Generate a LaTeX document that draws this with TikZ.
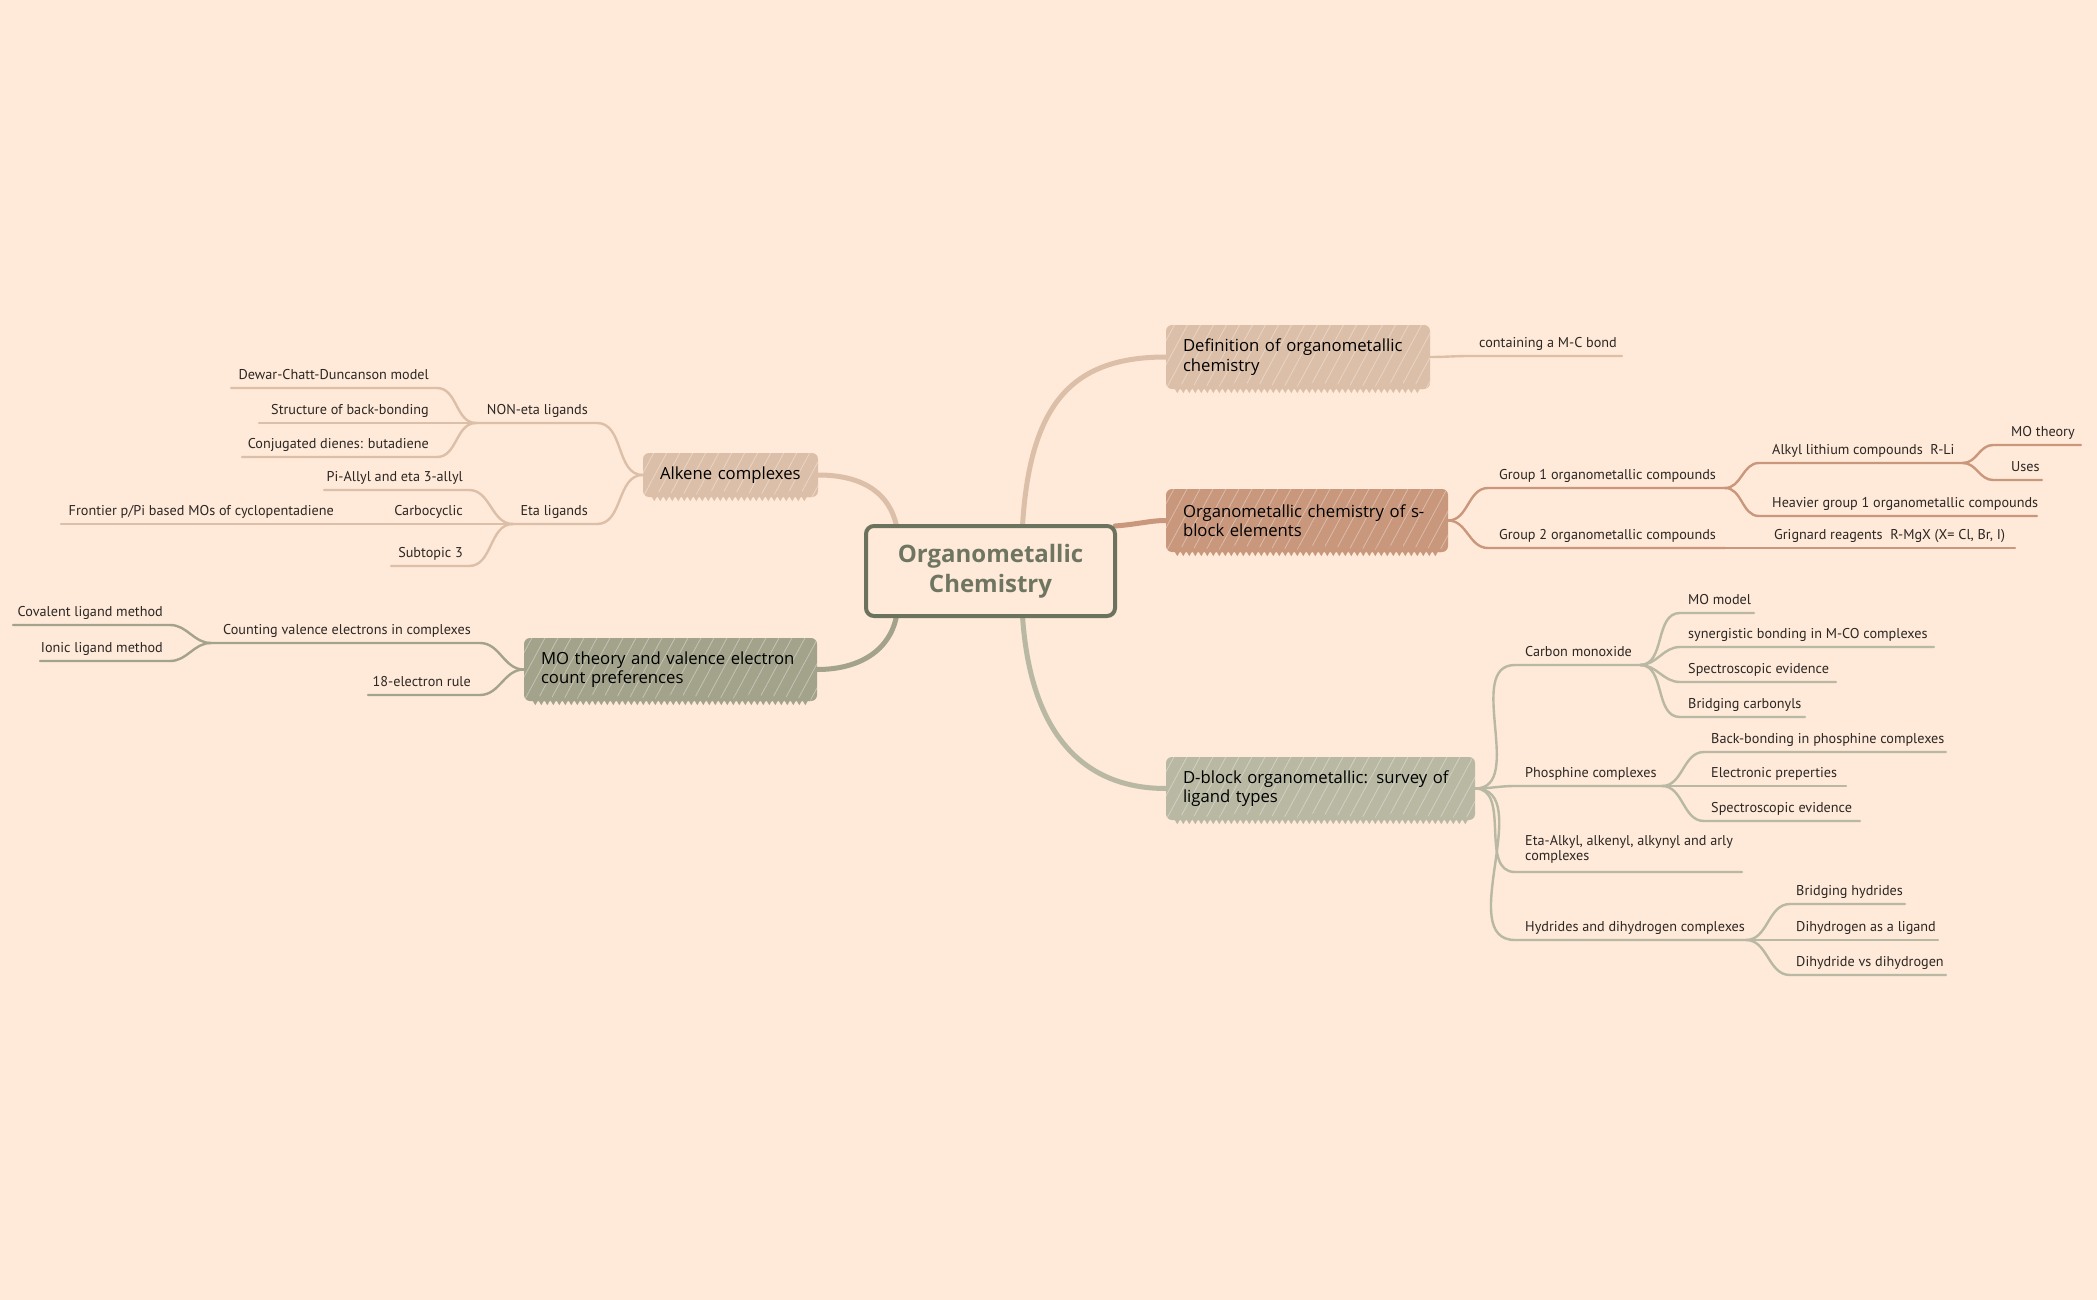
\documentclass[tikz,border=0pt]{standalone}
\usepackage{fontspec}
\newfontfamily\topicfont{Open Sans}
\newfontfamily\subfont{PT Sans}
\usetikzlibrary{decorations.pathmorphing}
\definecolor{bg}{HTML}{FFE9D8}
\definecolor{tanF}{HTML}{DCBFA8}
\definecolor{sF}{HTML}{C9977C}
\definecolor{dF}{HTML}{B8B8A3}
\definecolor{mF}{HTML}{A3A38B}
\definecolor{cenC}{HTML}{6B735F}
\definecolor{cenT}{HTML}{6E7662}
\definecolor{txt}{HTML}{2B2724}
\newcommand\boxteeth[2]{%
  \draw[#2, line width=3pt, decorate, decoration={zigzag, segment length=6pt, amplitude=2.5pt}]
    ([xshift=7pt,yshift=1.5pt]#1.south west) -- ([xshift=-7pt,yshift=1.5pt]#1.south east);}
\begin{document}
\begin{tikzpicture}[x=1pt,y=-1pt,
  lbl/.style={font=\subfont\fontsize{14.2}{15}\selectfont, text=txt, inner sep=0pt},
  rl/.style={lbl, anchor=base west},
  ll/.style={lbl, anchor=base east},
  topic/.style={rounded corners=6pt, inner xsep=17pt, inner ysep=0pt, align=left,
    text width=#1, font=\topicfont\fontsize{16.7}{19.5}\selectfont, text=black,
    path picture={\foreach \k in {-8,...,30}
      \draw[white, opacity=.35, line width=.8pt]
        ([xshift=\k*13pt]path picture bounding box.south west) -- ++(35pt,65pt);}},
  sub/.style={line width=2.4pt, line cap=round},
  trunk/.style={line width=5pt, line cap=round},
  central/.style={draw=cenC, line width=4pt, rounded corners=8pt, fill=bg, minimum width=249pt,
    minimum height=90pt, align=center, text=cenT,
    font=\topicfont\bfseries\fontsize{24}{30}\selectfont},
]
\useasboundingbox (0,0) rectangle (2097,1300);
\fill[bg] (0,0) rectangle (2097,1300);

% ---------- topic boxes ----------
\node[topic=230pt, fill=tanF, minimum width=264pt, minimum height=64pt] (def) at (1298,357)
  {\mbox{Definition of organometallic}\\chemistry};
\node[topic=248pt, fill=sF, minimum width=282pt, minimum height=63pt] (sb) at (1307,520.5)
  {\mbox{Organometallic chemistry of s-}\\block elements};
\node[topic=275pt, fill=dF, minimum width=309pt, minimum height=63pt] (db) at (1320.5,788.5)
  {\mbox{D-block organometallic: survey of}\\ligand types};
\node[topic=141pt, fill=tanF, minimum width=175pt, minimum height=44pt] (al) at (730.5,475)
  {\mbox{Alkene complexes}};
\node[topic=259pt, fill=mF, minimum width=293pt, minimum height=63pt] (mo) at (670.5,669.5)
  {\mbox{MO theory and valence electron}\\count preferences};
\boxteeth{def}{tanF}
\boxteeth{sb}{sF}
\boxteeth{db}{dF}
\boxteeth{al}{tanF}
\boxteeth{mo}{mF}

% ---------- central (placeholder for anchors) ----------
\node[central, draw=none, fill=none, text opacity=0] (cen) at (990.5,571) {Organometallic\\Chemistry};

% ---------- trunks ----------
\draw[trunk, tanF] ([xshift=32pt,yshift=-2pt]cen.north) .. controls (1030,400) and (1075,357) .. (def.west);
\draw[trunk, sF] ([xshift=-2pt,yshift=-2pt]cen.north east) .. controls (1140,524) and (1150,520.5) .. (sb.west);
\draw[trunk, dF] ([xshift=32pt,yshift=2pt]cen.south) .. controls (1030,730) and (1080,788.5) .. (db.west);
\draw[trunk, tanF] ([xshift=-94pt,yshift=-2pt]cen.north) .. controls (890,495) and (865,475) .. (al.east);
\draw[trunk, mF] ([xshift=-94pt,yshift=2pt]cen.south) .. controls (890,650) and (860,669.5) .. (mo.east);
\node[central] (cenbox) at (cen.center) {Organometallic\\Chemistry};

% ---------- Definition branch ----------
\node[rl] (cont) at (1479,347) {containing a M-C bond};
\coordinate (cont-s) at (1470,356); \coordinate (cont-e) at (1622,356);
\draw[sub, tanF] (def.east) to[out=0,in=180] (cont-s) -- (cont-e);

% ---------- s-block branch ----------
\node[rl] (g1) at (1499,479) {Group 1 organometallic compounds};
\coordinate (g1-s) at (1488,488); \coordinate (g1-e) at (1725,488);
\node[rl] (g2) at (1499,539) {Group 2 organometallic compounds};
\coordinate (g2-s) at (1488,548); \coordinate (g2-e) at (1725,548);
\node[rl] (alk) at (1772,454) {Alkyl lithium compounds\ \ R-Li};
\coordinate (alk-s) at (1759,463); \coordinate (alk-e) at (1963,463);
\node[rl] (mot) at (2011,436) {MO theory};
\coordinate (mot-s) at (1993,445); \coordinate (mot-e) at (2081,445);
\node[rl] (uses) at (2011,471) {Uses};
\coordinate (uses-s) at (1993,480); \coordinate (uses-e) at (2042,480);
\node[rl] (hv) at (1772,507) {Heavier group 1 organometallic compounds};
\coordinate (hv-s) at (1759,516); \coordinate (hv-e) at (2037,516);
\node[rl] (gr) at (1774,539) {Grignard reagents\ \ R-MgX (X= Cl, Br, I)};
\coordinate (gr-s) at (1759,548); \coordinate (gr-e) at (2015,548);
\begin{scope}[sub, sF]
\draw (sb.east) to[out=0,in=180] (g1-s) -- (g1-e);
\draw (sb.east) to[out=0,in=180] (g2-s) -- (g2-e);
\draw (g1-e) to[out=0,in=180] (alk-s) -- (alk-e);
\draw (g1-e) to[out=0,in=180] (hv-s) -- (hv-e);
\draw (alk-e) to[out=0,in=180] (mot-s) -- (mot-e);
\draw (alk-e) to[out=0,in=180] (uses-s) -- (uses-e);
\draw (g2-e) -- (gr-s) -- (gr-e);
\end{scope}

% ---------- D-block branch ----------
\node[rl] (co) at (1525,656) {Carbon monoxide};
\coordinate (co-s) at (1515,665); \coordinate (co-e) at (1640,665);
\node[rl] (mom) at (1688,604) {MO model};
\coordinate (mom-s) at (1680,613); \coordinate (mom-e) at (1754,613);
\node[rl] (syn) at (1688,638) {synergistic bonding in M-CO complexes};
\coordinate (syn-s) at (1680,647); \coordinate (syn-e) at (1934,647);
\node[rl] (spa) at (1688,673) {Spectroscopic evidence};
\coordinate (spa-s) at (1680,682); \coordinate (spa-e) at (1836,682);
\node[rl] (brc) at (1688,708) {Bridging carbonyls};
\coordinate (brc-s) at (1680,717); \coordinate (brc-e) at (1805,717);
\node[rl] (ph) at (1525,777) {Phosphine complexes};
\coordinate (ph-s) at (1515,786); \coordinate (ph-e) at (1662,786);
\node[rl] (bb) at (1711,743) {Back-bonding in phosphine complexes};
\coordinate (bb-s) at (1704,752); \coordinate (bb-e) at (1946,752);
\node[rl] (ep) at (1711,777) {Electronic preperties};
\coordinate (ep-s) at (1704,786); \coordinate (ep-e) at (1846,786);
\node[rl] (spb) at (1711,812) {Spectroscopic evidence};
\coordinate (spb-s) at (1704,821); \coordinate (spb-e) at (1860,821);
\node[lbl, anchor=south west, align=left] (eta2) at (1525,864) {Eta-Alkyl, alkenyl, alkynyl and arly\\complexes};
\coordinate (eta2-s) at (1515,872); \coordinate (eta2-e) at (1742,872);
\node[rl] (hy) at (1525,931) {Hydrides and dihydrogen complexes};
\coordinate (hy-s) at (1515,940); \coordinate (hy-e) at (1746,940);
\node[rl] (bh) at (1796,895) {Bridging hydrides};
\coordinate (bh-s) at (1790,904); \coordinate (bh-e) at (1905,904);
\node[rl] (dl) at (1796,931) {Dihydrogen as a ligand};
\coordinate (dl-s) at (1790,940); \coordinate (dl-e) at (1938,940);
\node[rl] (dd) at (1796,966) {Dihydride vs dihydrogen};
\coordinate (dd-s) at (1790,975); \coordinate (dd-e) at (1946,975);
\begin{scope}[sub, dF]
\draw (db.east) to[out=0,in=180] (co-s) -- (co-e);
\draw (db.east) to[out=0,in=180] (ph-s) -- (ph-e);
\draw (db.east) to[out=0,in=180] (eta2-s) -- (eta2-e);
\draw (db.east) to[out=0,in=180] (hy-s) -- (hy-e);
\foreach \c in {mom,syn,spa,brc} \draw (co-e) to[out=0,in=180] (\c-s) -- (\c-e);
\foreach \c in {bb,ep,spb} \draw (ph-e) to[out=0,in=180] (\c-s) -- (\c-e);
\foreach \c in {bh,dl,dd} \draw (hy-e) to[out=0,in=180] (\c-s) -- (\c-e);
\end{scope}

% ---------- Alkene branch ----------
\node[ll] (non) at (588,414) {NON-eta ligands};
\coordinate (non-s) at (597,423); \coordinate (non-e) at (476,423);
\node[ll] (dew) at (429,379) {Dewar-Chatt-Duncanson model};
\coordinate (dew-s) at (437,388); \coordinate (dew-e) at (231,388);
\node[ll] (stb) at (429,414) {Structure of back-bonding};
\coordinate (stb-s) at (437,423); \coordinate (stb-e) at (259,423);
\node[ll] (cjd) at (429,448) {Conjugated dienes: butadiene};
\coordinate (cjd-s) at (437,457); \coordinate (cjd-e) at (242,457);
\node[ll] (etl) at (588,515) {Eta ligands};
\coordinate (etl-s) at (597,524); \coordinate (etl-e) at (513,524);
\node[ll] (pia) at (463,481) {Pi-Allyl and eta 3-allyl};
\coordinate (pia-s) at (469,490); \coordinate (pia-e) at (324,490);
\node[ll] (car) at (463,515) {Carbocyclic};
\coordinate (car-s) at (469,524); \coordinate (car-e) at (384,524);
\node[ll] (fro) at (334,515) {Frontier p/Pi based MOs of cyclopentadiene};
\coordinate (fro-e) at (61,524);
\node[ll] (stp) at (463,557) {Subtopic 3};
\coordinate (stp-s) at (469,566); \coordinate (stp-e) at (391,566);
\begin{scope}[sub, tanF]
\draw (al.west) to[out=180,in=0] (non-s) -- (non-e);
\draw (al.west) to[out=180,in=0] (etl-s) -- (etl-e);
\foreach \c in {dew,stb,cjd} \draw (non-e) to[out=180,in=0] (\c-s) -- (\c-e);
\foreach \c in {pia,car,stp} \draw (etl-e) to[out=180,in=0] (\c-s) -- (\c-e);
\draw (car-e) -- (fro-e);
\end{scope}

% ---------- MO branch ----------
\node[ll] (cnt) at (471,634) {Counting valence electrons in complexes};
\coordinate (cnt-s) at (480,643); \coordinate (cnt-e) at (211,643);
\node[ll] (cov) at (163,616) {Covalent ligand method};
\coordinate (cov-s) at (170,625); \coordinate (cov-e) at (13,625);
\node[ll] (ion) at (163,652) {Ionic ligand method};
\coordinate (ion-s) at (170,661); \coordinate (ion-e) at (40,661);
\node[ll] (ele) at (471,686) {18-electron rule};
\coordinate (ele-s) at (480,695); \coordinate (ele-e) at (368,695);
\begin{scope}[sub, mF]
\draw (mo.west) to[out=180,in=0] (cnt-s) -- (cnt-e);
\draw (mo.west) to[out=180,in=0] (ele-s) -- (ele-e);
\foreach \c in {cov,ion} \draw (cnt-e) to[out=180,in=0] (\c-s) -- (\c-e);
\end{scope}
\end{tikzpicture}
\end{document}
